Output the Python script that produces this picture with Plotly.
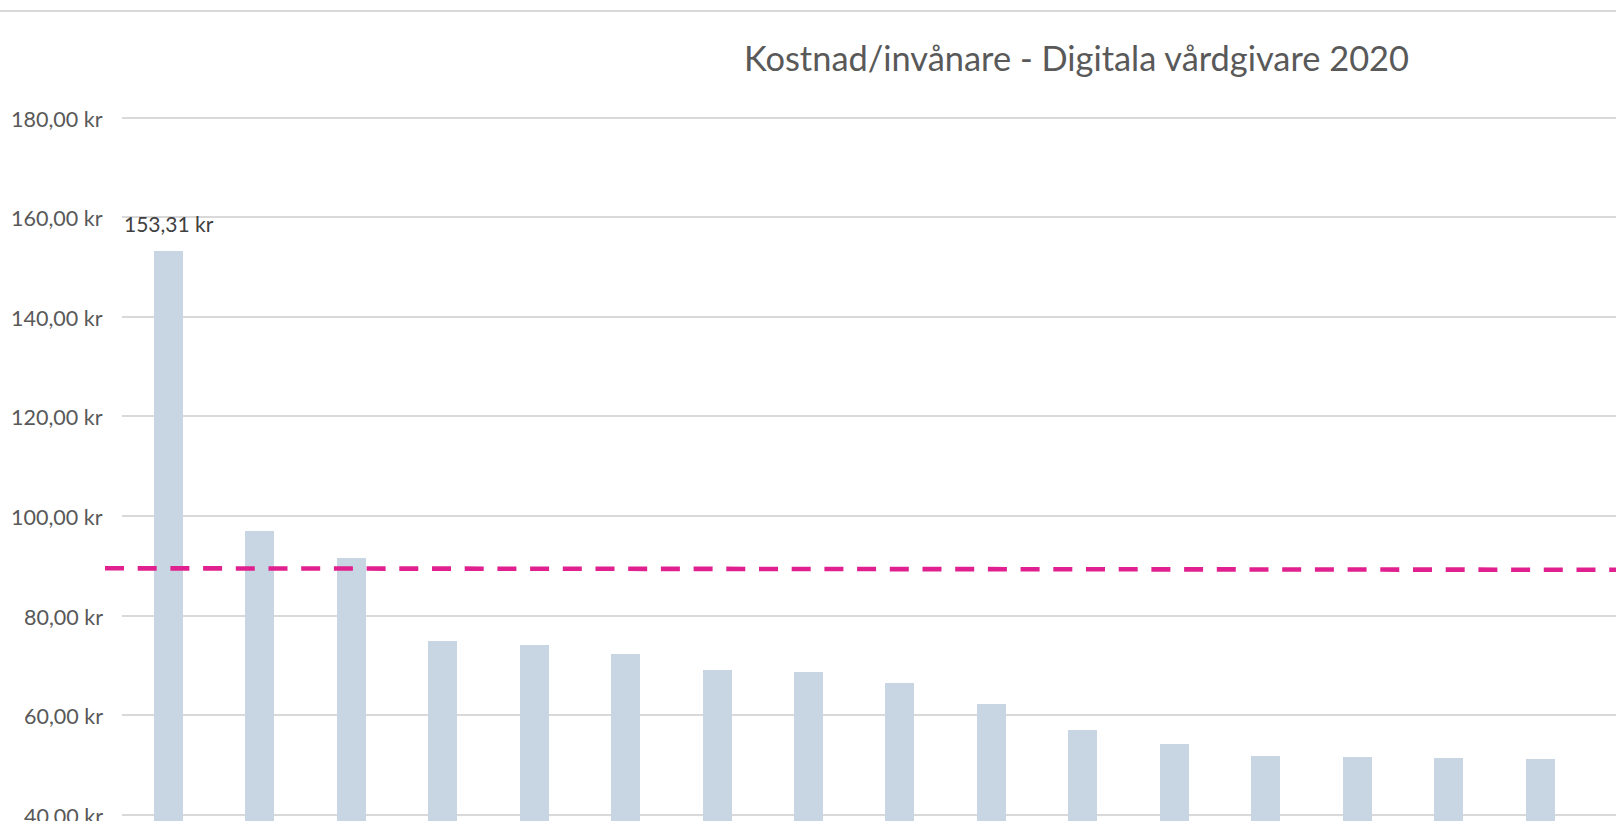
import plotly.graph_objects as go

# ---------------- data ----------------
categories = [f"Region {i}" for i in range(1, 17)]   # axis labels are cropped off in the reference
values = [153.31, 97.13, 91.70, 74.92, 74.12, 72.31, 69.10, 68.70,
          66.48, 62.27, 57.05, 54.24, 51.83, 51.60, 51.40, 51.20]
average_line = [89.50, 89.20]          # dashed reference line (left end, right end)
y_tick_values = [40, 60, 80, 100, 120, 140, 160, 180]
labelled_bar = 0                       # only the first bar carries a data label
title_text = "Kostnad/invånare - Digitala vårdgivare 2020"

# ---------------- layout geometry (pixels) ----------------
W, H = 1616, 821
plot_left = 122.3
line_left = 105.0
band = 91.47
first_center = 168.5
bar_width_px = 29.0
y_ref_val, y_ref_px = 180.0, 117.7
px_per_unit = 4.979
tick_label_right = 104.5
title_cx, title_cy = 1076, 58

def val_at_px(py):
    return y_ref_val - (py - y_ref_px) / px_per_unit

y_max = 182.0
y_top_px = y_ref_px - (y_max - y_ref_val) * px_per_unit
y_min = val_at_px(H)
y_domain = [0, 1 - y_top_px / H]

x_range = [(plot_left - first_center) / band, (W - first_center) / band]
x2_range = [(line_left - first_center) / band, x_range[1]]

FONT = "Lato"
GREY = "#595959"

def fmt_kr(v):
    return f"{v:.2f}".replace(".", ",") + " kr"

fig = go.Figure()

fig.add_trace(go.Bar(
    x=categories, y=values,
    width=bar_width_px / band,
    marker=dict(color="#C7D6E2", line=dict(width=0)),
    xaxis="x", yaxis="y",
    hoverinfo="x+y",
    showlegend=False,
))

fig.add_trace(go.Scatter(
    x=x2_range, y=average_line,
    mode="lines",
    line=dict(color="#E0208F", width=4.6, dash="19px,13.7px"),
    xaxis="x2", yaxis="y2",
    showlegend=False,
))

# data label on the first bar
fig.add_annotation(
    x=categories[labelled_bar], y=values[labelled_bar],
    xref="x", yref="y",
    text=fmt_kr(values[labelled_bar]),
    showarrow=False, yanchor="bottom", yshift=13,
    font=dict(family=FONT, size=21, color="#404040"),
)

# y tick labels (as text next to the gridlines; bottom one is cut by the crop)
for v in y_tick_values:
    fig.add_annotation(
        x=tick_label_right / W, y=v, xref="paper", yref="y",
        text=fmt_kr(v), showarrow=False,
        xanchor="right", yanchor="middle", yshift=-1,
        font=dict(family=FONT, size=21.5, color=GREY),
    )

fig.add_annotation(
    x=title_cx / W, y=1 - title_cy / H, xref="paper", yref="paper",
    text=title_text, showarrow=False,
    xanchor="center", yanchor="middle",
    font=dict(family=FONT, size=34.4, color=GREY),
)

# outer chart frame (top edge visible in the crop)
fig.add_shape(type="line", xref="paper", yref="paper",
              x0=0, x1=1, y0=1 - 11 / H, y1=1 - 11 / H,
              line=dict(color="#D9D9D9", width=2))

fig.update_layout(
    width=W, height=H,
    margin=dict(l=0, r=0, t=0, b=0),
    paper_bgcolor="white",
    plot_bgcolor="rgba(0,0,0,0)",
    separators=", ",
    font=dict(family=FONT, color=GREY),
    xaxis=dict(
        domain=[plot_left / W, 1], range=x_range, anchor="y",
        showticklabels=False, showgrid=False, zeroline=False, showline=False,
        ticks="",
    ),
    yaxis=dict(
        domain=y_domain, range=[y_min, y_max], anchor="x",
        tickmode="array", tickvals=y_tick_values,
        showticklabels=False,
        showgrid=True, gridcolor="#D9D9D9", gridwidth=1.5,
        zeroline=False, showline=False, ticks="",
    ),
    xaxis2=dict(
        domain=[line_left / W, 1], range=x2_range, anchor="y2",
        visible=False, showgrid=False, zeroline=False,
    ),
    yaxis2=dict(
        domain=y_domain, range=[y_min, y_max], anchor="x2",
        visible=False, showgrid=False, zeroline=False,
    ),
    bargap=0,
)

fig.write_html("out.html", config={"displayModeBar": False},
               post_script="document.body.style.margin='0';")
